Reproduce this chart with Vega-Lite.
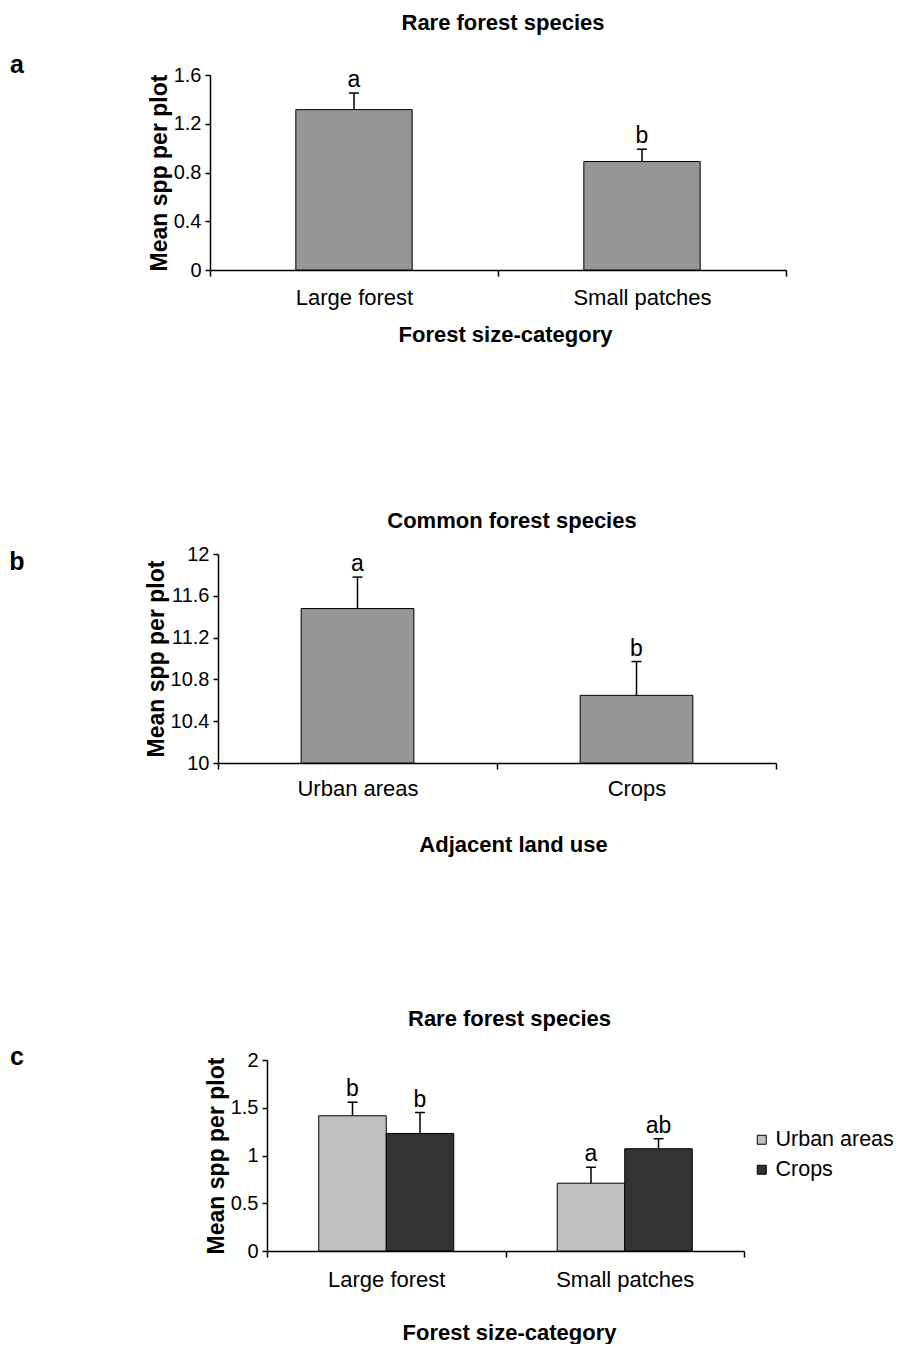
{
  "$schema": "https://vega.github.io/schema/vega-lite/v6.json",
  "background": "white",
  "padding": {"left": 7, "top": 12, "right": 0, "bottom": 0},
  "spacing": 152,
  "resolve": {"legend": {"fill": "independent"}},
  "config": {
    "font": "Liberation Sans",
    "view": {"stroke": null},
    "axis": {"domainColor": "black", "tickColor": "black", "labelColor": "black", "titleColor": "black", "grid": false, "labelFontSize": 20, "titleFontSize": 22, "titleFontWeight": "bold", "domainWidth": 1.5, "tickWidth": 1.5, "labelFont": "Liberation Sans", "titleFont": "Liberation Sans"},
    "title": {"fontSize": 22, "fontWeight": "bold", "color": "black", "font": "Liberation Sans"}
  },
  "vconcat": [
    {
      "spacing": 121,
      "hconcat": [
        {
          "width": 20, "height": 283,
          "data": {"values": [{"letter": "a"}]},
          "mark": {"type": "text", "fontSize": 25, "fontWeight": "bold", "baseline": "middle", "dy": -151.5},
          "encoding": {"text": {"field": "letter"}}
        },
        {
          "width": 576, "height": 195,
          "title": {"text": "Rare forest species", "offset": 30, "dx": 5},
          "data": {"values": [
            {"cat": "Large forest", "mean": 1.316, "se_top": 1.452, "lab": "a"},
            {"cat": "Small patches", "mean": 0.89, "se_top": 0.991, "lab": "b"}
          ]},
          "encoding": {
            "x": {"field": "cat", "type": "nominal", "sort": null, "scale": {"paddingInner": 0, "paddingOuter": 0},
                  "axis": {"title": "Forest size-category", "titleX": 295, "labelAngle": 0, "tickBand": "extent", "labelFontSize": 22, "tickSize": 6, "labelPadding": 11, "titlePadding": 16}}
          },
          "layer": [
            {"mark": {"type": "bar", "fill": "#969696", "stroke": "black", "strokeWidth": 1, "width": {"band": 0.404}},
             "encoding": {"y": {"field": "mean", "type": "quantitative", "title": "Mean spp per plot", "scale": {"domain": [0, 1.6], "nice": false},
               "axis": {"values": [0, 0.4, 0.8, 1.2, 1.6], "format": "~g", "tickSize": 5, "labelPadding": 4, "titlePadding": 2, "titleFontSize": 23}}}},
            {"mark": {"type": "rule", "strokeWidth": 1.5, "color": "black"},
             "encoding": {"y": {"field": "mean", "type": "quantitative", "title": "Mean spp per plot", "scale": {"domain": [0, 1.6], "nice": false}}, "y2": {"field": "se_top"}}},
            {"mark": {"type": "tick", "size": 10, "thickness": 1.5, "color": "black", "opacity": 1},
             "encoding": {"y": {"field": "se_top", "type": "quantitative", "title": "Mean spp per plot", "scale": {"domain": [0, 1.6], "nice": false}}}},
            {"mark": {"type": "text", "fontSize": 23, "baseline": "alphabetic", "dy": -6},
             "encoding": {"y": {"field": "se_top", "type": "quantitative", "title": "Mean spp per plot", "scale": {"domain": [0, 1.6], "nice": false}}, "text": {"field": "lab"}}}
          ]
        }
      ]
    },
    {
      "spacing": 118,
      "hconcat": [
        {
          "width": 20, "height": 10,
          "data": {"values": [{"letter": "b"}]},
          "mark": {"type": "text", "fontSize": 25, "fontWeight": "bold", "baseline": "middle", "dy": 3},
          "encoding": {"text": {"field": "letter"}}
        },
        {
          "width": 558, "height": 209,
          "title": {"text": "Common forest species", "offset": 11, "dx": 15},
          "data": {"values": [
            {"cat": "Urban areas", "mean": 11.478, "se_top": 11.779, "lab": "a"},
            {"cat": "Crops", "mean": 10.647, "se_top": 10.971, "lab": "b"}
          ]},
          "encoding": {
            "x": {"field": "cat", "type": "nominal", "sort": null, "scale": {"paddingInner": 0, "paddingOuter": 0},
                  "axis": {"title": "Adjacent land use", "titleX": 295, "labelAngle": 0, "tickBand": "extent", "labelFontSize": 22, "tickSize": 6, "labelPadding": 9.5, "titlePadding": 35}}
          },
          "layer": [
            {"mark": {"type": "bar", "fill": "#969696", "stroke": "black", "strokeWidth": 1, "width": {"band": 0.404}},
             "encoding": {"y": {"field": "mean", "type": "quantitative", "title": "Mean spp per plot", "scale": {"domain": [10, 12], "nice": false, "zero": false},
               "axis": {"values": [10, 10.4, 10.8, 11.2, 11.6, 12], "format": "~g", "tickSize": 5, "labelPadding": 4, "titlePadding": 2, "titleFontSize": 23}},
               "y2": {"datum": 10}}},
            {"mark": {"type": "rule", "strokeWidth": 1.5, "color": "black"},
             "encoding": {"y": {"field": "mean", "type": "quantitative", "title": "Mean spp per plot", "scale": {"domain": [10, 12], "nice": false, "zero": false}}, "y2": {"field": "se_top"}}},
            {"mark": {"type": "tick", "size": 10, "thickness": 1.5, "color": "black", "opacity": 1},
             "encoding": {"y": {"field": "se_top", "type": "quantitative", "title": "Mean spp per plot", "scale": {"domain": [10, 12], "nice": false, "zero": false}}}},
            {"mark": {"type": "text", "fontSize": 23, "baseline": "alphabetic", "dy": -6},
             "encoding": {"y": {"field": "se_top", "type": "quantitative", "title": "Mean spp per plot", "scale": {"domain": [10, 12], "nice": false, "zero": false}}, "text": {"field": "lab"}}}
          ]
        }
      ]
    },
    {
      "spacing": 178,
      "resolve": {"legend": {"fill": "independent"}},
      "hconcat": [
        {
          "width": 20, "height": 10,
          "data": {"values": [{"letter": "c"}]},
          "mark": {"type": "text", "fontSize": 25, "fontWeight": "bold", "baseline": "middle", "dy": -8},
          "encoding": {"text": {"field": "letter"}}
        },
        {
          "width": 477, "height": 191,
          "title": {"text": "Rare forest species", "offset": 19, "dx": 4},
          "data": {"values": [
            {"cat": "Large forest", "use": "Urban areas", "mean": 1.416, "se_top": 1.558, "lab": "b"},
            {"cat": "Large forest", "use": "Crops", "mean": 1.231, "se_top": 1.45, "lab": "b"},
            {"cat": "Small patches", "use": "Urban areas", "mean": 0.71, "se_top": 0.877, "lab": "a"},
            {"cat": "Small patches", "use": "Crops", "mean": 1.071, "se_top": 1.176, "lab": "ab"}
          ]},
          "encoding": {
            "x": {"field": "cat", "type": "nominal", "sort": null, "scale": {"paddingInner": 0, "paddingOuter": 0},
                  "axis": {"title": "Forest size-category", "titleX": 242, "labelAngle": 0, "tickBand": "extent", "labelFontSize": 22, "tickSize": 6, "labelPadding": 12.5, "titlePadding": 32}},
            "xOffset": {"field": "use", "type": "nominal", "sort": ["Urban areas", "Crops"], "scale": {"paddingInner": 0, "paddingOuter": 0.766}}
          },
          "layer": [
            {"mark": {"type": "bar", "stroke": "black", "strokeWidth": 1},
             "encoding": {"y": {"field": "mean", "type": "quantitative", "title": "Mean spp per plot", "scale": {"domain": [0, 2], "nice": false},
               "axis": {"values": [0, 0.5, 1, 1.5, 2], "format": "~g", "tickSize": 5, "labelPadding": 4, "titlePadding": 2, "titleFontSize": 23}},
               "fill": {"field": "use", "type": "nominal", "sort": ["Urban areas", "Crops"], "scale": {"domain": ["Urban areas", "Crops"], "range": ["#c0c0c0", "#333333"]},
                 "legend": {"title": null, "orient": "none", "legendX": 484, "legendY": 69, "labelFontSize": 21.5, "labelColor": "black", "symbolType": "square", "symbolSize": 81, "symbolStrokeColor": "black", "symbolStrokeWidth": 1, "rowPadding": 7, "labelOffset": 3}}}},
            {"mark": {"type": "rule", "strokeWidth": 1.5, "color": "black"},
             "encoding": {"y": {"field": "mean", "type": "quantitative", "title": "Mean spp per plot", "scale": {"domain": [0, 2], "nice": false}}, "y2": {"field": "se_top"}}},
            {"mark": {"type": "tick", "size": 10, "thickness": 1.5, "color": "black", "opacity": 1},
             "encoding": {"y": {"field": "se_top", "type": "quantitative", "title": "Mean spp per plot", "scale": {"domain": [0, 2], "nice": false}}}},
            {"mark": {"type": "text", "fontSize": 23, "baseline": "alphabetic", "dy": -6},
             "encoding": {"y": {"field": "se_top", "type": "quantitative", "title": "Mean spp per plot", "scale": {"domain": [0, 2], "nice": false}}, "text": {"field": "lab"}}}
          ]
        }
      ]
    }
  ]
}
